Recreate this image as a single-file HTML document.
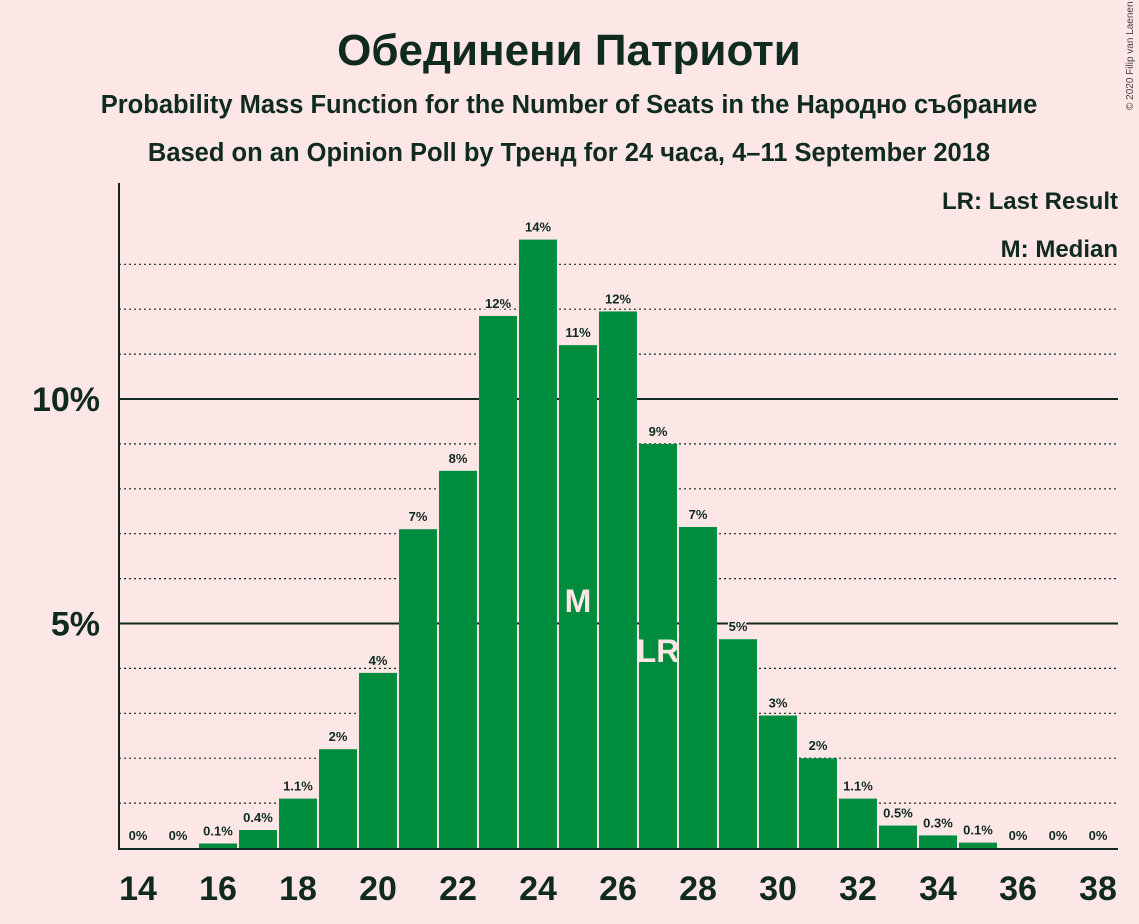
<!DOCTYPE html>
<html><head><meta charset="utf-8"><style>
body{margin:0;background:#fde6e6;}
svg{display:block;font-family:"Liberation Sans","DejaVu Sans",sans-serif;}
</style></head><body>
<svg id="chart" width="1139" height="924" viewBox="0 0 1139 924">
<rect width="1139" height="924" fill="#fde6e6"/>
<text x="569" y="65" text-anchor="middle" font-size="44" font-weight="bold" fill="#0f2a1e">Обединени Патриоти</text>
<text x="569" y="113" text-anchor="middle" font-size="25.5" font-weight="bold" fill="#0f2a1e">Probability Mass Function for the Number of Seats in the Народно събрание</text>
<text x="569" y="161" text-anchor="middle" font-size="25.5" font-weight="bold" fill="#0f2a1e">Based on an Opinion Poll by Тренд for 24 часа, 4–11 September 2018</text>
<text x="1133" y="110" font-size="10" fill="#444" transform="rotate(-90 1133 110)">© 2020 Filip van Laenen</text>
<text x="1118" y="209" text-anchor="end" font-size="24" font-weight="bold" fill="#0f2a1e">LR: Last Result</text>
<text x="1118" y="257" text-anchor="end" font-size="24" font-weight="bold" fill="#0f2a1e">M: Median</text>
<g id="grid"></g><g id="bars"></g><g id="axes"></g>
</svg>
<script>
const seats=[14,15,16,17,18,19,20,21,22,23,24,25,26,27,28,29,30,31,32,33,34,35,36,37,38];
const probs=[0,0,0.1,0.4,1.1,2.2,3.9,7.1,8.4,11.85,13.55,11.2,11.95,9.0,7.15,4.65,2.95,2.0,1.1,0.5,0.28,0.12,0,0,0];
const labels=["0%","0%","0.1%","0.4%","1.1%","2%","4%","7%","8%","12%","14%","11%","12%","9%","7%","5%","3%","2%","1.1%","0.5%","0.3%","0.1%","0%","0%","0%"];
const xTicks=[14,16,18,20,22,24,26,28,30,32,34,36,38];
const yTicks=[5,10];
const gridLines=[1,2,3,4,6,7,8,9,11,12,13];
const medianSeat=25, lastResultSeat=27;
const NS="http://www.w3.org/2000/svg";
const y0=848, pxPerPct=44.9, x14=138, pxPerSeat=40;
const yS=v=>y0-v*pxPerPct, xS=s=>x14+(s-14)*pxPerSeat;
function mk(t,a,p){const e=document.createElementNS(NS,t);for(const k in a)e.setAttribute(k,a[k]);p.appendChild(e);return e;}
const grid=document.getElementById('grid'),bars=document.getElementById('bars'),axes=document.getElementById('axes');
gridLines.forEach(v=>{const l=mk('line',{x1:119,x2:1118,y1:yS(v),y2:yS(v),stroke:'#0f2a1e','stroke-width':1.2,'stroke-dasharray':'2,3'},grid);

});
yTicks.forEach(v=>{const l=mk('line',{x1:119,x2:1118,y1:yS(v),y2:yS(v),stroke:'#0f2a1e','stroke-width':2},grid);


const t=mk('text',{x:100,y:yS(v)+12,'text-anchor':'end','font-size':34,'font-weight':'bold',fill:'#0f2a1e'},axes);t.textContent=v+'%';

});
seats.forEach((s,i)=>{const v=probs[i];const x=xS(s);
if(v>0){const r=mk('rect',{x:x-19,y:yS(v),width:38,height:v*pxPerPct,fill:'#008c3e'},bars);

}
const t=mk('text',{x:x,y:yS(v)-8,'text-anchor':'middle','font-size':13,'font-weight':'bold',fill:'#0f2a1e',stroke:'#fde6e6','stroke-width':3,'paint-order':'stroke'},bars);t.textContent=labels[i];


if(s===medianSeat){const m=mk('text',{x:x,y:612,'text-anchor':'middle','font-size':32,'font-weight':'bold',fill:'#fde6e6'},bars);m.textContent='M';

}
if(s===lastResultSeat){const m=mk('text',{x:x,y:662,'text-anchor':'middle','font-size':32,'font-weight':'bold',fill:'#fde6e6'},bars);m.textContent='LR';

}});
xTicks.forEach(s=>{const t=mk('text',{x:xS(s),y:900,'text-anchor':'middle','font-size':34,'font-weight':'bold',fill:'#0f2a1e'},axes);t.textContent=s;

});
const ya=mk('line',{x1:119,x2:119,y1:183,y2:849,stroke:'#0f2a1e','stroke-width':2},axes);


const xa=mk('line',{x1:118,x2:1118,y1:849,y2:849,stroke:'#0f2a1e','stroke-width':2},axes);


</script>
</body></html>
